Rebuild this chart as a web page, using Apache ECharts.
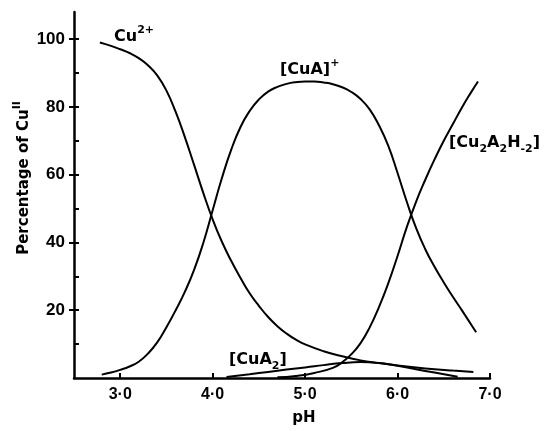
<!DOCTYPE html>
<html>
<head>
<meta charset="utf-8">
<script src="https://cdn.jsdelivr.net/npm/echarts@6/dist/echarts.min.js"></script>
<style>html,body{margin:0;padding:0;background:#fff}#c{width:550px;height:431px}</style>
</head>
<body>
<div id="c"></div>
<script>
// pH values and percentage of Cu(II) for each species
const phCu2 = [2.78, 2.9, 3.0, 3.1, 3.2, 3.3, 3.4, 3.5, 3.6, 3.7, 3.8, 3.9, 4.0, 4.1, 4.2, 4.3, 4.4, 4.5, 4.6, 4.7, 4.8, 4.9, 5.0, 5.2, 5.4, 5.6, 5.8, 6.0, 6.2, 6.4, 6.6, 6.82];
const cu2   = [99.0, 98.0, 97.0, 95.9, 94.4, 92.3, 89.3, 84.8, 78.5, 71.0, 62.8, 54.5, 46.8, 40.2, 34.6, 29.6, 25.0, 21.3, 18.0, 15.3, 13.1, 11.3, 9.9, 7.9, 6.4, 5.2, 4.4, 3.7, 3.1, 2.6, 2.2, 1.8];

const phCuA = [2.8, 2.9, 3.0, 3.1, 3.2, 3.3, 3.4, 3.5, 3.6, 3.7, 3.8, 3.9, 4.0, 4.1, 4.2, 4.3, 4.4, 4.5, 4.6, 4.7, 4.8, 4.9, 5.0, 5.1, 5.2, 5.3, 5.4, 5.5, 5.6, 5.7, 5.8, 5.9, 6.0, 6.1, 6.2, 6.3, 6.4, 6.5, 6.6, 6.7, 6.85];
const cuA   = [1.0, 1.6, 2.4, 3.4, 4.8, 7.2, 10.5, 15.0, 20.0, 25.5, 32.0, 40.0, 49.5, 59.0, 67.3, 74.0, 78.8, 82.2, 84.5, 85.9, 86.8, 87.3, 87.5, 87.5, 87.2, 86.7, 85.8, 84.4, 82.3, 79.2, 74.5, 68.5, 60.5, 52.0, 44.3, 38.0, 32.8, 28.2, 23.9, 19.8, 13.5];

const phDimer = [4.7, 4.9, 5.1, 5.3, 5.4, 5.5, 5.6, 5.7, 5.8, 5.9, 6.0, 6.1, 6.2, 6.3, 6.4, 6.5, 6.6, 6.7, 6.8, 6.87];
const dimer   = [0.2, 0.6, 1.5, 3.0, 4.6, 7.0, 10.3, 15.0, 21.0, 28.0, 36.0, 44.5, 52.0, 58.5, 64.5, 70.0, 75.0, 80.0, 84.5, 87.5];

const phCuA2 = [4.15, 4.4, 4.6, 4.8, 5.0, 5.2, 5.4, 5.6, 5.8, 6.0, 6.2, 6.4, 6.65];
const cuA2   = [0.3, 1.1, 1.8, 2.5, 3.1, 3.8, 4.4, 4.7, 4.4, 3.6, 2.6, 1.6, 0.4];

const xTicks = [3, 4, 5, 6, 7];
const yMinorTicks = [10, 20, 30, 40, 50, 60, 70, 80, 90, 100];
const yLabels = [20, 40, 60, 80, 100];

const pair = (xs, ys) => xs.map((x, i) => [x, ys[i]]);
const FONT = 'Liberation Sans';
const LFONT = 'DejaVu Sans';
const lineSeries = (name, xs, ys) => ({
  name, type: 'line', data: pair(xs, ys), smooth: 0.5, symbol: 'none',
  lineStyle: { color: '#000', width: 2 }, z: 3
});

const chart = echarts.init(document.getElementById('c'), null, { renderer: 'canvas' });
const mk = (size, va) => ({ fontFamily: LFONT, fontWeight: 'bold', fontSize: size, verticalAlign: va, fill: '#000', lineHeight: 24 });
const rich = { m: mk(16, 'middle'), sp: mk(11, 'top'), sb: mk(11, 'bottom') };
const richY = { m: mk(15, 'middle'), sp: mk(11, 'top'), sb: mk(11, 'bottom') };
const txt = (x, y, text) => ({
  type: 'text', x, y,
  style: { text, rich, fill: '#000', align: 'left', verticalAlign: 'middle' }
});

chart.setOption({
  animation: false,
  backgroundColor: '#fff',
  grid: { left: 74, right: 60, top: 12, bottom: 50 },
  xAxis: {
    type: 'value', min: 2.5, max: 7.0,
    axisLine: { lineStyle: { color: '#000', width: 2.5 } },
    axisTick: { inside: true, length: 5, customValues: xTicks, lineStyle: { color: '#000', width: 2 } },
    axisLabel: { customValues: xTicks, margin: 9, color: '#000', fontFamily: FONT, fontWeight: 'bold', fontSize: 16,
      formatter: v => v.toFixed(1).replace('.', '\u00b7') },
    splitLine: { show: false },
    name: 'pH', nameLocation: 'middle', nameGap: 33,
    nameTextStyle: { color: '#000', fontFamily: LFONT, fontWeight: 'bold', fontSize: 15, padding: [0, 0, 0, 44] }
  },
  yAxis: [{
    type: 'value', min: 0, max: 108,
    axisLine: { show: true, lineStyle: { color: '#000', width: 2.5 } },
    axisTick: { inside: true, length: 5, customValues: yMinorTicks, lineStyle: { color: '#000', width: 2 } },
    axisLabel: { customValues: yLabels, margin: 9, color: '#000', fontFamily: FONT, fontWeight: 'bold', fontSize: 17 },
    splitLine: { show: false }
  }, {
    type: 'value', min: 0, max: 108, position: 'left',
    axisLine: { show: false },
    axisTick: { show: true, inside: false, length: 5, customValues: yLabels, lineStyle: { color: '#000', width: 2 } },
    axisLabel: { show: false },
    splitLine: { show: false }
  }],
  series: [
    lineSeries('Cu2+', phCu2, cu2),
    lineSeries('[CuA]+', phCuA, cuA),
    lineSeries('[Cu2A2H-2]', phDimer, dimer),
    lineSeries('[CuA2]', phCuA2, cuA2)
  ],
  graphic: [
    txt(114, 37, '{m|Cu}{sp|2+}'),
    txt(280, 70, '{m|[CuA]}{sp|+}'),
    txt(449, 143, '{m|[Cu}{sb|2}{m|A}{sb|2}{m|H}{sb|-2}{m|]}'),
    txt(229, 360, '{m|[CuA}{sb|2}{m|]}'),
    { type: 'text', x: 24, y: 178, rotation: Math.PI / 2,
      style: { text: '{m|Percentage of Cu}{sp|II}', rich: richY, align: 'center', verticalAlign: 'middle' } }
  ]
});
</script>
</body>
</html>
